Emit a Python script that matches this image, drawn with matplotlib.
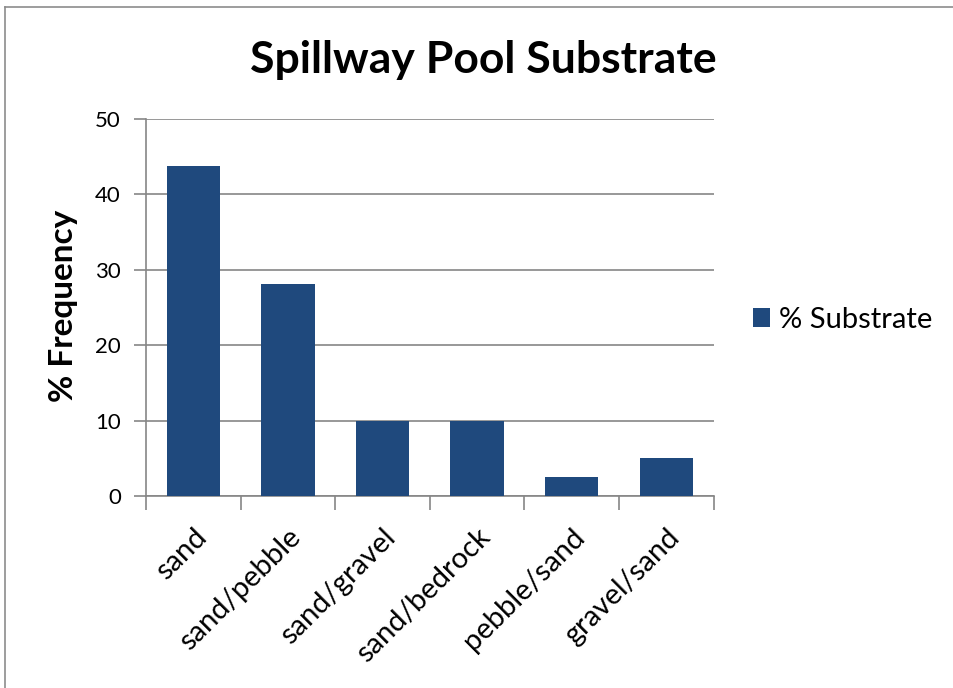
import matplotlib.pyplot as plt
from matplotlib.lines import Line2D

categories = ['sand', 'sand/pebble', 'sand/gravel', 'sand/bedrock', 'pebble/sand', 'gravel/sand']
substrate = [43.75, 28.1, 10, 10, 2.5, 5]
y_ticks = [0, 10, 20, 30, 40, 50]

plt.rcParams['font.family'] = ['Lato', 'DejaVu Sans']

bar_color = '#1F497D'
axis_color = '#868686'

fig = plt.figure(figsize=(9.54, 6.88), dpi=100)
ax = fig.add_axes([0.153, 0.279, 0.595, 0.548])

x = list(range(len(categories)))
ax.bar(x, substrate, width=0.565, color=bar_color, label='% Substrate', zorder=3)

ax.set_xlim(-0.5, len(categories) - 0.5)
ax.set_ylim(0, 50)
ax.set_yticks(y_ticks)
ax.set_yticklabels([str(v) for v in y_ticks], fontsize=16)
ax.yaxis.grid(True, color=axis_color, linewidth=1.2, zorder=0)

# ticks between categories, labels centered under bars
ax.set_xticks([i - 0.5 for i in range(len(categories) + 1)])
ax.set_xticklabels([])
ax.set_xticks(x, minor=True)
ax.set_xticklabels(categories, minor=True, rotation=45, ha='right',
                   rotation_mode='anchor', fontsize=21)
ax.tick_params(axis='x', which='minor', length=0, pad=20)
ax.tick_params(axis='x', which='major', length=10, width=1.2, color=axis_color)
ax.tick_params(axis='y', length=9, width=1.2, color=axis_color, pad=9)

for side in ['top', 'right']:
    ax.spines[side].set_visible(False)
for side in ['left', 'bottom']:
    ax.spines[side].set_color(axis_color)
    ax.spines[side].set_linewidth(1.2)

ax.set_ylabel('% Frequency', fontsize=24, fontweight='bold')
ax.yaxis.set_label_coords(-0.12, 0.504)
fig.text(0.507, 0.913, 'Spillway Pool Substrate', fontsize=32, fontweight='bold',
         ha='center', va='center')

ax.legend(loc='center left', bbox_to_anchor=(1.069, 0.468), frameon=False,
          fontsize=21, handlelength=0.6, handleheight=0.6, handletextpad=0.3,
          borderaxespad=0, borderpad=0)

# chart frame (cropped screenshot shows only top and left edges)
fx = 5 / 954
fy = 1 - 7 / 688
fig.lines.append(Line2D([fx, fx], [0, fy], transform=fig.transFigure,
                        color='#8c8c8c', linewidth=1.2))
fig.lines.append(Line2D([fx, 1], [fy, fy], transform=fig.transFigure,
                        color='#8c8c8c', linewidth=1.2))

fig.savefig('out.png', dpi=100)
